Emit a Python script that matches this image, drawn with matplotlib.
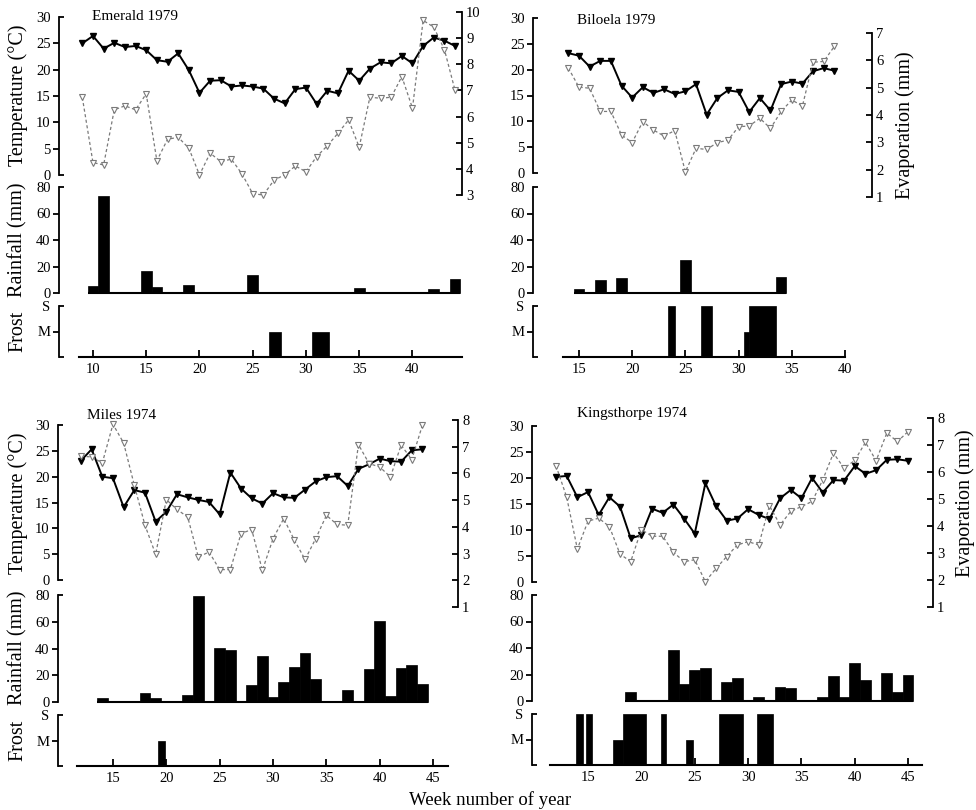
import matplotlib
matplotlib.use('Agg')
import matplotlib.pyplot as plt

plt.rcParams['font.family'] = ['Liberation Serif', 'DejaVu Serif']

W, H = 976, 810

# ---------------- DATA ----------------
# Emerald 1979
em_weeks = list(range(9, 45))
em_temp = [25.0, 26.4, 24.0, 25.1, 24.3, 24.5, 23.7, 21.8, 21.5, 23.1, 19.9, 15.6,
           17.9, 18.0, 16.8, 17.0, 16.8, 16.4, 14.5, 13.6, 16.3, 16.6, 13.5, 16.0,
           15.5, 19.8, 17.9, 20.2, 21.4, 21.2, 22.6, 21.2, 24.5, 26.1, 25.5, 24.5]
em_evap = [6.73, 4.24, 4.15, 6.26, 6.41, 6.26, 6.87, 4.31, 5.13, 5.21, 4.79, 3.77,
           4.60, 4.28, 4.37, 3.80, 3.05, 3.0, 3.57, 3.77, 4.11, 3.89, 4.47, 4.88,
           5.36, 5.87, 4.83, 6.74, 6.70, 6.74, 7.53, 6.32, 9.68, 9.42, 8.56, 7.0]
em_rain_weeks = list(range(10, 45))
em_rain = [5.0, 73.0, 0.5, 0.5, 0.5, 16.6, 4.8, 0, 0, 5.9, 0, 0, 0, 0, 0, 13.8,
           0, 0, 0, 0, 0, 0, 0, 0, 0, 3.8, 0, 0, 0, 0, 0, 0, 3.0, 0, 10.6]
em_frost_start = [26.5, 30.6]
em_frost_end = [27.65, 32.2]
em_frost_level = [1, 1]

# Biloela 1979
bi_weeks = list(range(14, 40))
bi_temp = [23.2, 22.7, 20.6, 21.7, 21.7, 16.9, 14.6, 16.6, 15.5, 16.2, 15.3, 15.8,
           17.2, 11.3, 14.5, 16.0, 15.7, 11.8, 14.5, 12.1, 17.2, 17.7, 17.3, 19.7,
           20.3, 19.8]
bi_evap = [5.72, 5.02, 4.98, 4.13, 4.13, 3.27, 2.99, 3.76, 3.45, 3.23, 3.43, 1.92,
           2.78, 2.74, 2.99, 3.08, 3.57, 3.60, 3.88, 3.51, 4.13, 4.55, 4.33, 5.93,
           5.96, 6.51]
bi_rain_weeks = list(range(15, 35))
bi_rain = [3.0, 0, 10.0, 0, 11.3, 0, 0, 0, 0, 0, 25.0, 0.5, 0.5, 0, 0, 0, 0, 0, 0, 11.8]
bi_frost_start = [23.4, 26.5, 30.5, 31.0]
bi_frost_end = [24.0, 27.5, 31.0, 33.55]
bi_frost_level = [2, 2, 1, 2]

# Miles 1974
mi_weeks = list(range(12, 45))
mi_temp = [23.1, 25.3, 20.0, 19.7, 14.1, 17.4, 16.9, 11.3, 13.2, 16.6, 16.0, 15.5,
           15.1, 12.7, 20.8, 17.7, 15.8, 14.8, 16.8, 16.0, 15.9, 17.5, 19.1, 19.9,
           20.1, 18.2, 21.5, 22.4, 23.5, 23.0, 22.9, 25.1, 25.3]
mi_evap = [6.64, 6.62, 6.39, 7.84, 7.14, 5.56, 4.06, 2.97, 5.02, 4.65, 4.37, 2.87,
           3.06, 2.40, 2.40, 3.75, 3.90, 2.37, 3.56, 4.31, 3.50, 2.78, 3.56, 4.43,
           4.09, 4.06, 7.08, 6.37, 6.24, 5.87, 7.06, 6.52, 7.81]
mi_rain_weeks = list(range(14, 45))
mi_rain = [3.3, 0.8, 0.8, 0.8, 7.0, 3.3, 0.5, 0.5, 5.5, 79.0, 0.5, 40.5, 38.8, 0.5,
           13.0, 34.5, 3.8, 15.0, 26.3, 37.0, 17.5, 0, 0, 9.3, 0, 25.0, 60.5, 4.3,
           25.5, 27.5, 13.8]
mi_frost_start = [19.2]
mi_frost_end = [19.85]
mi_frost_level = [1]

# Kingsthorpe 1974
ki_weeks = list(range(12, 46))
ki_temp = [20.2, 20.4, 16.3, 17.3, 12.9, 16.3, 14.5, 8.4, 9.0, 14.1, 13.3, 14.9,
           12.2, 9.3, 19.0, 14.6, 11.8, 12.2, 14.0, 12.9, 12.1, 16.1, 17.7, 16.1,
           20.0, 17.2, 19.6, 19.5, 22.3, 20.8, 21.5, 23.5, 23.6, 23.3]
ki_evap = [6.23, 5.07, 3.15, 4.18, 4.29, 3.98, 2.96, 2.68, 3.87, 3.62, 3.62, 3.03,
           2.68, 2.75, 1.94, 2.43, 2.87, 3.30, 3.42, 3.30, 4.75, 4.04, 4.54, 4.72,
           4.91, 5.71, 6.70, 6.14, 6.43, 7.10, 6.42, 7.44, 7.13, 7.50]
ki_rain_weeks = list(range(19, 46))
ki_rain = [7.0, 0, 0, 0, 38.8, 13.0, 23.3, 25.0, 0, 14.5, 17.5, 0, 3.3, 0, 10.5, 9.5,
           0, 0, 3.3, 18.5, 3.3, 29.0, 15.5, 0, 21.0, 6.8, 20.0]
ki_frost_start = [13.9, 14.85, 17.3, 18.3, 21.8, 24.2, 27.3, 30.8]
ki_frost_end = [14.5, 15.4, 18.3, 20.4, 22.3, 24.85, 29.5, 32.3]
ki_frost_level = [2, 2, 1, 2, 2, 1, 2, 2]

titles = ['Emerald 1979', 'Biloela 1979', 'Miles 1974', 'Kingsthorpe 1974']
frost_labels = ['M', 'S']

# ---------------- LAYOUT ----------------
fig = plt.figure(figsize=(W / 100, H / 100), dpi=100)
LW = 1.3
TFS = 10.5


def rect(x0, x1, ytop, ybot):
    return [x0 / W, 1 - ybot / H, (x1 - x0) / W, (ybot - ytop) / H]


def serif(ax, y, xpx_len, axw_px):
    f = xpx_len / axw_px
    ax.plot([0, f], [y, y], transform=ax.transAxes, color='k', lw=LW,
            clip_on=False, solid_capstyle='butt')


def left_only(ax):
    for s in ['top', 'right', 'bottom']:
        ax.spines[s].set_visible(False)
    ax.spines['left'].set_linewidth(LW)
    ax.tick_params(axis='y', direction='out', length=4, width=LW, labelsize=TFS, pad=2)
    ax.tick_params(axis='x', bottom=False, labelbottom=False)
    ax.patch.set_alpha(0)


def panel(L, data):
    (weeks, temp, evap, rweeks, rain, fs, fe, fl, title) = data
    x0, x1 = L['x0'], L['x1']
    axw = x1 - x0
    xlim = L['xlim']
    # Temperature
    at = fig.add_axes(rect(x0, x1, L['t_top'], L['t_bot']))
    left_only(at)
    at.set_xlim(*xlim)
    at.set_ylim(0, 30)
    at.set_yticks([0, 5, 10, 15, 20, 25, 30])
    tks = at.yaxis.get_major_ticks()
    tks[0].tick1line.set_visible(False)
    tks[-1].tick1line.set_visible(False)
    serif(at, 1, 5, axw)
    serif(at, 0, 5, axw)
    at.plot(weeks, temp, color='k', lw=1.4, marker='v', ms=4.3, mfc='k', mec='k',
            zorder=3, clip_on=False)
    # Evaporation
    ae = fig.add_axes(rect(x0, x1, L['e_top'], L['e_bot']))
    for s in ['top', 'left', 'bottom']:
        ae.spines[s].set_visible(False)
    ae.spines['right'].set_linewidth(LW)
    ae.patch.set_alpha(0)
    ae.set_xlim(*xlim)
    ae.set_ylim(L['e_lo'], L['e_hi'])
    ae.set_yticks(range(L['e_lo'], L['e_hi'] + 1))
    ae.yaxis.tick_right()
    ae.tick_params(axis='y', direction='in', length=4, width=LW, labelsize=TFS, pad=3)
    ae.tick_params(axis='x', bottom=False, labelbottom=False)
    ae.plot(weeks, evap, color='#7a7a7a', lw=0.9, ls=(0, (2.5, 2)), marker='v', ms=4.3,
            mfc='white', mec='#7a7a7a', mew=0.8, zorder=2, clip_on=False)
    # Rainfall
    ar = fig.add_axes(rect(x0, x1, L['r_top'], L['r_bot']))
    left_only(ar)
    ar.set_xlim(*xlim)
    ar.set_ylim(0, 80)
    ar.set_yticks([0, 20, 40, 60, 80])
    ar.yaxis.get_major_ticks()[-1].tick1line.set_visible(False)
    serif(ar, 1, 5, axw)
    ar.bar(rweeks, rain, width=1.0, color='k', edgecolor='k', lw=0.5, clip_on=False)
    ar.hlines(0, rweeks[0] - 0.5, rweeks[-1] + 0.5, color='k', lw=1.5, clip_on=False)
    # Frost
    af = fig.add_axes(rect(x0, x1, L['f_top'], L['f_bot']))
    for s in ['top', 'right']:
        af.spines[s].set_visible(False)
    af.spines['left'].set_linewidth(LW)
    af.spines['bottom'].set_linewidth(1.5)
    af.spines['bottom'].set_bounds(*L['fb'])
    af.patch.set_alpha(0)
    af.set_xlim(*xlim)
    af.set_ylim(0, 2)
    af.set_yticks([1, 2])
    af.set_yticklabels(frost_labels)
    af.tick_params(axis='y', direction='out', length=4, width=LW, labelsize=TFS, pad=2)
    af.yaxis.get_major_ticks()[-1].tick1line.set_visible(False)
    serif(af, 1, 5, axw)
    serif(af, 0, 5, axw)
    af.set_xticks(L['xt'])
    af.tick_params(axis='x', direction='in', length=5, width=LW, labelsize=TFS, pad=4)
    widths = [e - s for s, e in zip(fs, fe)]
    af.bar(fs, fl, width=widths, align='edge', color='k', edgecolor='k', lw=0.5)
    # title
    fig.text(L['title_xy'][0] / W, 1 - L['title_xy'][1] / H, title, fontsize=11,
             ha='left', va='center')


layouts = [
    dict(x0=59, x1=462, t_top=17, t_bot=175, e_top=12, e_bot=195, e_lo=3, e_hi=10,
         r_top=187, r_bot=293, f_top=306, f_bot=357, xlim=(6.81, 44.65),
         fb=(8.69, 44.65), xt=[10, 15, 20, 25, 30, 35, 40], title_xy=(92, 16)),
    dict(x0=533, x1=872, t_top=18, t_bot=173, e_top=33, e_bot=197, e_lo=1, e_hi=7,
         r_top=187, r_bot=293, f_top=306, f_bot=357, xlim=(10.68, 42.54),
         fb=(13.5, 40.0), xt=[15, 20, 25, 30, 35, 40], title_xy=(577, 20)),
    dict(x0=58, x1=458, t_top=425, t_bot=580, e_top=420, e_bot=607, e_lo=1, e_hi=8,
         r_top=595, r_bot=702, f_top=715, f_bot=766, xlim=(9.85, 47.33),
         fb=(11.6, 46.4), xt=[15, 20, 25, 30, 35, 40, 45], title_xy=(87, 415)),
    dict(x0=532, x1=933, t_top=426, t_bot=582, e_top=418, e_bot=607, e_lo=1, e_hi=8,
         r_top=595, r_bot=701, f_top=714, f_bot=765, xlim=(9.75, 47.33),
         fb=(11.4, 46.3), xt=[15, 20, 25, 30, 35, 40, 45], title_xy=(577, 413)),
]

datas = [
    (em_weeks, em_temp, em_evap, em_rain_weeks, em_rain, em_frost_start, em_frost_end,
     em_frost_level, titles[0]),
    (bi_weeks, bi_temp, bi_evap, bi_rain_weeks, bi_rain, bi_frost_start, bi_frost_end,
     bi_frost_level, titles[1]),
    (mi_weeks, mi_temp, mi_evap, mi_rain_weeks, mi_rain, mi_frost_start, mi_frost_end,
     mi_frost_level, titles[2]),
    (ki_weeks, ki_temp, ki_evap, ki_rain_weeks, ki_rain, ki_frost_start, ki_frost_end,
     ki_frost_level, titles[3]),
]

for L, d in zip(layouts, datas):
    panel(L, d)

LFS = 14.5
for yc_t, yc_r, yc_f in [(95, 240, 331), (503, 648, 740)]:
    fig.text(18 / W, 1 - yc_t / H, 'Temperature (°C)', rotation=90, fontsize=LFS,
             ha='center', va='center')
    fig.text(18 / W, 1 - yc_r / H, 'Rainfall (mm)', rotation=90, fontsize=LFS,
             ha='center', va='center')
    fig.text(18 / W, 1 - yc_f / H, 'Frost', rotation=90, fontsize=LFS,
             ha='center', va='center')
fig.text(905 / W, 1 - 125 / H, 'Evaporation (mm)', rotation=90, fontsize=LFS,
         ha='center', va='center')
fig.text(965 / W, 1 - 503 / H, 'Evaporation (mm)', rotation=90, fontsize=LFS,
         ha='center', va='center')
fig.text(490 / W, 1 - 800 / H, 'Week number of year', fontsize=13.5,
         ha='center', va='center')

fig.savefig('out.png', dpi=100)
